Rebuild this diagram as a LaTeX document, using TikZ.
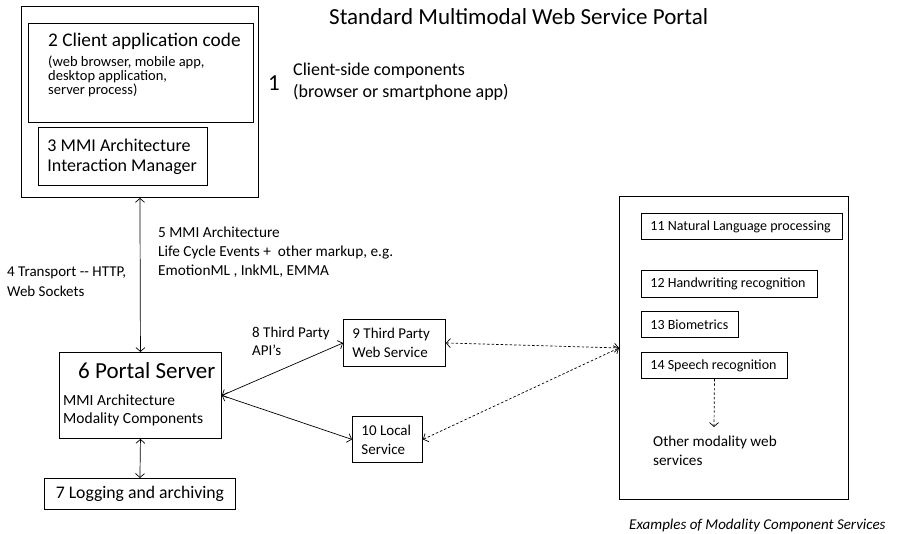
\documentclass[tikz,border=0pt]{standalone}
\usepackage{fontspec}
\setmainfont{Carlito}
\usetikzlibrary{arrows.meta, positioning}

\begin{document}
\begin{tikzpicture}[
    x=1pt, y=-1pt,
    box/.style={draw, line width=0.9pt, anchor=north west, inner sep=0pt},
    svc/.style={box, align=flush left, inner xsep=9pt},
    txt/.style={anchor=base west, inner sep=0pt, align=flush left},
    link/.style={line width=0.7pt, {Straight Barb[length=4pt,width=9pt]}-{Straight Barb[length=4pt,width=9pt]}},
    dlink/.style={link, dash pattern=on 2.5pt off 2pt},
    >={Straight Barb[length=4pt,width=9pt]}
]
\useasboundingbox (0,0) rectangle (897,534);
% title
\node[txt, font=\fontsize{23}{26}\selectfont] (title) at (329,25) {Standard Multimodal Web Service Portal};

% client side
\node[box, minimum width=237pt, minimum height=191pt] (client) at (21,6) {};
\node[box, minimum width=225pt, minimum height=99pt] (app) at (28,23) {};
\node[txt, font=\fontsize{19.3}{22}\selectfont] (apphead) at (48,47) {2 Client application code};
\node[txt, font={\fontsize{14.5}{14}\selectfont\lineskiplimit=-5pt}] (appnote) at (48,95) {(web browser, mobile app,\\desktop application,\\server process)};
\node[svc, minimum height=58pt, text width=151pt, font=\fontsize{18}{20}\selectfont] (im) at (38,127) {3 MMI Architecture\\Interaction Manager};
\node[txt, font=\fontsize{23}{26}\selectfont] (one) at (268,91) {1};
\node[txt, font=\fontsize{18}{22}\selectfont] (clientnote) at (293,98) {Client-side components\\(browser or smartphone app)};

% transport
\node[txt, font=\fontsize{15}{20}\selectfont] (transport) at (7,297) {4 Transport -{}- HTTP,\\Web Sockets};
\node[txt, font=\fontsize{15.3}{19}\selectfont] (events) at (158,276) {5 MMI Architecture\\Life Cycle Events +~ other markup, e.g.\\EmotionML , InkML, EMMA};

% portal
\node[box, minimum width=162pt, minimum height=86pt] (portal) at (59,352) {};
\node[txt, font=\fontsize{23}{26}\selectfont] (portalhead) at (78,379) {6 Portal Server};
\node[txt, font=\fontsize{15.5}{18}\selectfont] (portalnote) at (63,424) {MMI Architecture\\Modality Components};
\node[box, minimum width=191pt, minimum height=31pt, font=\fontsize{17.7}{20}\selectfont] (log) at (44,478) {7 Logging and archiving};

% services
\node[txt, font=\fontsize{15}{18}\selectfont] (api) at (252,356) {8 Third Party\\API’s};
\node[svc, minimum height=47pt, text width=84pt, font=\fontsize{15}{19}\selectfont] (third) at (343,319) {9 Third Party\\Web Service};
\node[svc, minimum height=46pt, text width=52pt, font=\fontsize{15}{19}\selectfont] (local) at (352,416) {10 Local\\Service};

% modality components
\node[box, minimum width=229pt, minimum height=303pt] (modal) at (619,196) {};
\node[svc, minimum height=26pt, text width=183pt, font=\fontsize{14}{16}\selectfont] (nlp) at (641,213) {11 Natural Language processing};
\node[svc, minimum height=27pt, text width=158pt, font=\fontsize{14}{16}\selectfont] (hand) at (641,270) {12 Handwriting recognition};
\node[svc, minimum height=26pt, text width=79pt, font=\fontsize{14}{16}\selectfont] (bio) at (641,311) {13 Biometrics};
\node[svc, minimum height=26pt, text width=128pt, font=\fontsize{14}{16}\selectfont] (speech) at (641,352) {14 Speech recognition};
\coordinate (other) at (714,427);
\node[txt, font=\fontsize{15.2}{19}\selectfont] (othernote) at (653,465) {Other modality web\\services};
\node[txt, font=\fontsize{15}{17}\itshape] (caption) at (629,529) {Examples of Modality Component Services};

% connectors
\draw[link] (client.south) -- (portal.north);
\draw[link] (portal.south) -- (log.north);
\draw[link] (portal.east) -- (third.west);
\draw[link] (portal.east) -- (local.west);
\draw[dlink] (third.east) -- (modal.west);
\draw[dlink] (local.east) -- (modal.west);
\draw[line width=0.7pt, dash pattern=on 2.5pt off 2pt, ->] (speech.south) -- (other);
\end{tikzpicture}
\end{document}
